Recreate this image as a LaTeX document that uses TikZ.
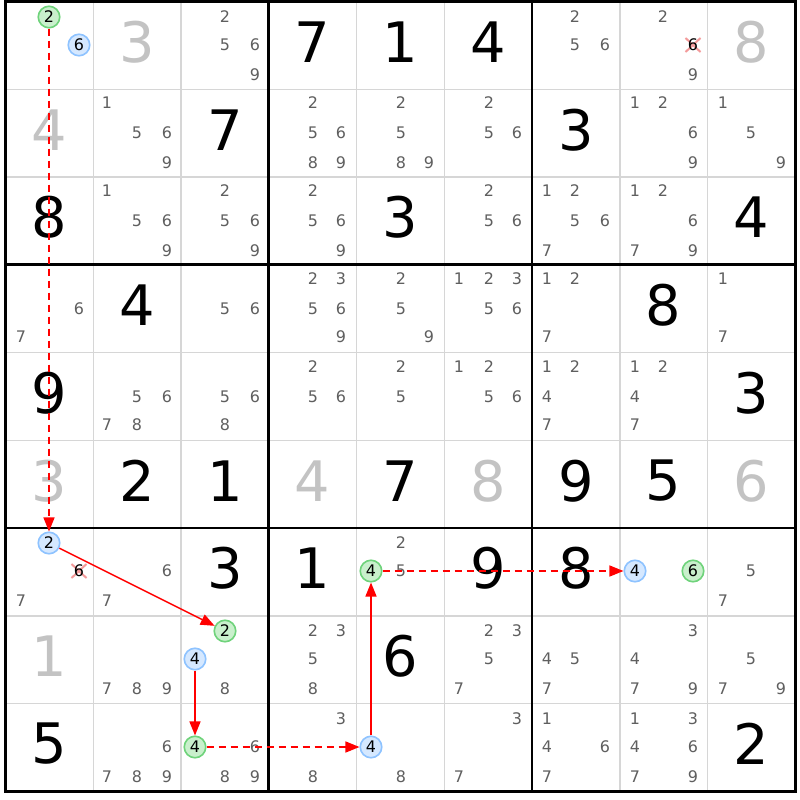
\documentclass[tikz,border=0pt]{standalone}
\usepackage{fontspec}
\setmainfont{DejaVu Sans}
\usetikzlibrary{arrows.meta}
\definecolor{candc}{HTML}{5F5F5F}
\definecolor{givg}{HTML}{C3C3C3}
\definecolor{gridthin}{HTML}{D6D6D6}
\definecolor{bluefill}{HTML}{D5E8FF}
\definecolor{blueedge}{HTML}{8EC3FF}
\definecolor{greenfill}{HTML}{C9F0CC}
\definecolor{greenedge}{HTML}{6FD37B}
\definecolor{xred}{HTML}{F39A9A}
\definecolor{arrred}{HTML}{FF0000}
\newcommand\sdxy[3]{\pgfmathsetmacro\cx{2*floor((5.5+(#2-1)*87.75+(mod(#3-1,3)+0.5)*29.25)/2)+1}\pgfmathsetmacro\cy{2*floor((1.5+(#1-1)*87.75+(floor((#3-1)/3)+0.5)*29.25)/2)+1}}
\newcommand\sdcands[3]{\foreach \d in {#3}{\sdxy{#1}{#2}{\d}\node[cand] (k#1#2\d) at (\cx,\cy) {\d};}}
\newcommand\sdbig[4]{\pgfmathsetmacro\cx{5.5+(#2-0.5)*87.75}\pgfmathsetmacro\cy{1.5+(#1-1)*87.75+40.5}\node[#4] (g#1#2) at (\cx,\cy) {#3};}
\newcommand\sdx[3]{\sdxy{#1}{#2}{#3}\draw[xmark] (\cx-7.5,\cy-7) -- (\cx+7.5,\cy+7) (\cx-7.5,\cy+7) -- (\cx+7.5,\cy-7);\node[candk] (x#1#2) at (\cx,\cy) {#3};}
\newcommand\sdcirc[5]{\sdxy{#1}{#2}{#3}\node[#4] (#5) at (\cx,\cy) {#3};}
\tikzset{
 cand/.style={font=\fontsize{16}{16}\selectfont, text=candc, inner sep=0pt},
 candk/.style={cand, text=black},
 bigk/.style={font=\fontsize{56}{56}\selectfont, text=black, inner sep=0pt},
 bigg/.style={bigk, text=givg},
 bcirc/.style={circle, draw=blueedge, fill=bluefill, line width=1.6bp, minimum size=21.5bp, inner sep=0pt, font=\fontsize{16}{16}\selectfont, text=black},
 gcirc/.style={bcirc, draw=greenedge, fill=greenfill},
 xmark/.style={draw=xred, line width=2bp},
 linkS/.style={draw=arrred, color=arrred, line width=1.5bp, -{Triangle[length=14bp,width=11bp]}},
 linkW/.style={linkS, dash pattern=on 7bp off 5bp},
 thinl/.style={draw=gridthin, line width=1.5bp},
 thickl/.style={draw=black, line width=2.6bp}
}
\begin{document}
\begin{tikzpicture}[x=1bp,y=-1bp]
\fill[white] (0,0) rectangle (800,800);
\useasboundingbox (0,0) rectangle (800,800);
\foreach \i in {1,2,4,5,7,8}{
 \draw[thinl] (5.5+\i*87.75,1.5) -- (5.5+\i*87.75,791.25);
 \draw[thinl] (5.5,1.5+\i*87.75) -- (795.25,1.5+\i*87.75);}
\foreach \i in {0,3,6,9}{
 \draw[thickl] (5.5+\i*87.75,0.2) -- (5.5+\i*87.75,792.5);
 \draw[thickl] (4.2,1.5+\i*87.75) -- (796.5,1.5+\i*87.75);}
% row 1
\sdbig{1}{2}{3}{bigg}\sdcands{1}{3}{2,5,6,9}\sdbig{1}{4}{7}{bigk}\sdbig{1}{5}{1}{bigk}\sdbig{1}{6}{4}{bigk}
\sdcands{1}{7}{2,5,6}\sdcands{1}{8}{2,9}\sdx{1}{8}{6}\sdbig{1}{9}{8}{bigg}
% row 2
\sdbig{2}{1}{4}{bigg}\sdcands{2}{2}{1,5,6,9}\sdbig{2}{3}{7}{bigk}\sdcands{2}{4}{2,5,6,8,9}\sdcands{2}{5}{2,5,8,9}
\sdcands{2}{6}{2,5,6}\sdbig{2}{7}{3}{bigk}\sdcands{2}{8}{1,2,6,9}\sdcands{2}{9}{1,5,9}
% row 3
\sdbig{3}{1}{8}{bigk}\sdcands{3}{2}{1,5,6,9}\sdcands{3}{3}{2,5,6,9}\sdcands{3}{4}{2,5,6,9}\sdbig{3}{5}{3}{bigk}
\sdcands{3}{6}{2,5,6}\sdcands{3}{7}{1,2,5,6,7}\sdcands{3}{8}{1,2,6,7,9}\sdbig{3}{9}{4}{bigk}
% row 4
\sdcands{4}{1}{6,7}\sdbig{4}{2}{4}{bigk}\sdcands{4}{3}{5,6}\sdcands{4}{4}{2,3,5,6,9}\sdcands{4}{5}{2,5,9}
\sdcands{4}{6}{1,2,3,5,6}\sdcands{4}{7}{1,2,7}\sdbig{4}{8}{8}{bigk}\sdcands{4}{9}{1,7}
% row 5
\sdbig{5}{1}{9}{bigk}\sdcands{5}{2}{5,6,7,8}\sdcands{5}{3}{5,6,8}\sdcands{5}{4}{2,5,6}\sdcands{5}{5}{2,5}
\sdcands{5}{6}{1,2,5,6}\sdcands{5}{7}{1,2,4,7}\sdcands{5}{8}{1,2,4,7}\sdbig{5}{9}{3}{bigk}
% row 6
\sdbig{6}{1}{3}{bigg}\sdbig{6}{2}{2}{bigk}\sdbig{6}{3}{1}{bigk}\sdbig{6}{4}{4}{bigg}\sdbig{6}{5}{7}{bigk}
\sdbig{6}{6}{8}{bigg}\sdbig{6}{7}{9}{bigk}\sdbig{6}{8}{5}{bigk}\sdbig{6}{9}{6}{bigg}
% row 7
\sdcands{7}{1}{7}\sdx{7}{1}{6}\sdcands{7}{2}{6,7}\sdbig{7}{3}{3}{bigk}\sdbig{7}{4}{1}{bigk}\sdcands{7}{5}{2,5}
\sdbig{7}{6}{9}{bigk}\sdbig{7}{7}{8}{bigk}\sdcands{7}{9}{5,7}
% row 8
\sdbig{8}{1}{1}{bigg}\sdcands{8}{2}{7,8,9}\sdcands{8}{3}{8}\sdcands{8}{4}{2,3,5,8}\sdbig{8}{5}{6}{bigk}
\sdcands{8}{6}{2,3,5,7}\sdcands{8}{7}{4,5,7}\sdcands{8}{8}{3,4,7,9}\sdcands{8}{9}{5,7,9}
% row 9
\sdbig{9}{1}{5}{bigk}\sdcands{9}{2}{6,7,8,9}\sdcands{9}{3}{6,8,9}\sdcands{9}{4}{3,8}\sdcands{9}{5}{8}
\sdcands{9}{6}{3,7}\sdcands{9}{7}{1,4,6,7}\sdcands{9}{8}{1,3,4,6,7,9}\sdbig{9}{9}{2}{bigk}
% circled candidates
\sdcirc{1}{1}{2}{gcirc}{a}
\sdcirc{1}{1}{6}{bcirc}{a6}
\sdcirc{7}{1}{2}{bcirc}{b}
\sdcirc{8}{3}{2}{gcirc}{c}
\sdcirc{8}{3}{4}{bcirc}{d}
\sdcirc{9}{3}{4}{gcirc}{e}
\sdcirc{9}{5}{4}{bcirc}{f}
\sdcirc{7}{5}{4}{gcirc}{g}
\sdcirc{7}{8}{4}{bcirc}{h}
\sdcirc{7}{8}{6}{gcirc}{h6}
% links
\draw[linkW] (a) -- (b);
\draw[linkS] (b) -- (c);
\draw[linkS] (d) -- (e);
\draw[linkW] (e) -- (f);
\draw[linkS] (f) -- (g);
\draw[linkW] (g) -- (h);
\end{tikzpicture}
\end{document}
